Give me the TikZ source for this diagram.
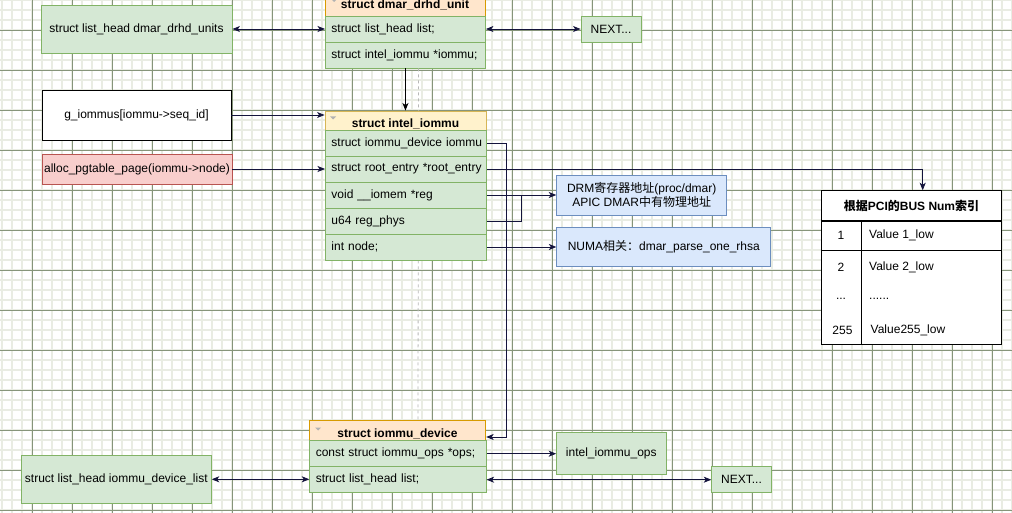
\documentclass[tikz,border=0pt]{standalone}
\usepackage{fontspec}
\setmainfont{Liberation Sans}
\newfontfamily\cjk{Noto Sans CJK SC}
\usetikzlibrary{arrows.meta,calc}
\definecolor{gfill}{HTML}{D5E8D4}
\definecolor{gstroke}{HTML}{82B366}
\definecolor{ofill}{HTML}{FFE6CC}
\definecolor{ostroke}{HTML}{D79B00}
\definecolor{yfill}{HTML}{FFF2CC}
\definecolor{ystroke}{HTML}{D6B656}
\definecolor{rfill}{HTML}{F8CECC}
\definecolor{rstroke}{HTML}{B85450}
\definecolor{bfill}{HTML}{DAE8FC}
\definecolor{bstroke}{HTML}{6C8EBF}
\definecolor{navy}{HTML}{14143C}
\definecolor{minorc}{HTML}{E9ECE3}
\definecolor{majorc}{HTML}{86957A}
\definecolor{dashc}{HTML}{B8B8B8}
\begin{document}
\begin{tikzpicture}[x=1pt,y=-1pt,
  every node/.style={font=\fontsize{12}{14}\selectfont, text=black},
  minorgrid/.style={draw=minorc, line width=1.6pt},
  majorgrid/.style={draw=majorc, line width=0.8pt},
  dashline/.style={draw=dashc, line width=0.8pt, dash pattern=on 3pt off 3pt},
  basebox/.style={line width=0.9pt, inner sep=0pt, align=center},
  gbox/.style={basebox, draw=gstroke, fill=gfill},
  wbox/.style={basebox, draw=black, fill=white},
  rbox/.style={basebox, draw=rstroke, fill=rfill},
  bbox/.style={basebox, draw=bstroke, fill=bfill},
  tbox/.style={basebox, draw=black, fill=white},
  ohead/.style={basebox, draw=ostroke, fill=ofill},
  yhead/.style={basebox, draw=ystroke, fill=yfill},
  htext/.style={font=\fontsize{12}{14}\selectfont\bfseries, inner sep=0pt},
  grow/.style={draw=gstroke, fill=gfill, line width=0.9pt, anchor=west, minimum height=26pt,
    inner xsep=6pt, inner ysep=0pt, text width=#1, align=left},
  cell/.style={inner sep=0pt},
  conn/.style={draw=navy, line width=0.9pt, -{Stealth[length=7.5pt,width=6pt,inset=2pt]}},
  biarrow/.style={draw=navy, line width=0.9pt, {Stealth[length=7.5pt,width=6pt,inset=2pt]}-{Stealth[length=7.5pt,width=6pt,inset=2pt]}},
  plainline/.style={draw=navy, line width=0.9pt},
  tline/.style={draw=black, line width=0.9pt},
  marker/.style={fill=gray!60}
]
\useasboundingbox (0,0) rectangle (1012,513);
\clip (0,0) rectangle (1012,513);
\fill[white] (0,0) rectangle (1012,513);
% grid
\foreach \i in {0,...,101} \draw[minorgrid] (2+10*\i,0) -- (2+10*\i,513);
\foreach \j in {0,...,51} \draw[minorgrid] (0,10*\j) -- (1012,10*\j);
\foreach \i in {0,...,25} \draw[majorgrid] (-8+40*\i,0) -- (-8+40*\i,513);
\foreach \j in {0,...,12} \draw[majorgrid] (0,30+40*\j) -- (1012,30+40*\j);

% struct dmar_drhd_unit
\node[ohead, minimum width=160pt, minimum height=21pt] (dmarH) at (405,5.5) {};
\node[grow=148pt] (dmarR1) at (325,29) {\mbox{struct list\_head list;}};
\node[grow=148pt] (dmarR2) at (325,55) {\mbox{struct intel\_iommu *iommu;}};

% struct iommu_device header
\node[ohead, minimum width=176.4pt, minimum height=20pt] (devH) at (397.5,430.7) {};

% dashed guide
\draw[dashline] ($(dmarR2.south)+(13,0)$) -- ($(devH.north)+(20.5,0)$);

\node[htext] (dmarT) at (405,5) {struct dmar\_drhd\_unit};
\node[gbox, minimum width=191pt, minimum height=48pt] (listA) at (136.5,29) {struct list\_head dmar\_drhd\_units};
\node[gbox, minimum width=60pt, minimum height=26pt] (next1) at (611,29) {NEXT...};

% left boxes
\node[wbox, minimum width=189pt, minimum height=50pt] (gio) at (136.5,115) {g\_iommus[iommu->seq\_id]};
\node[rbox, minimum width=190pt, minimum height=30pt] (alloc) at (137,169) {alloc\_pgtable\_page(iommu->node)};

% struct intel_iommu
\node[yhead, minimum width=161pt, minimum height=19pt] (intelH) at (405.5,120.5) {};
\node[htext] (intelT) at (405.5,123.5) {struct intel\_iommu};
\node[grow=149pt] (intelR1) at (325,143) {\mbox{struct iommu\_device iommu}};
\node[grow=149pt] (intelR2) at (325,169) {\mbox{struct root\_entry *root\_entry}};
\node[grow=149pt] (intelR3) at (325,195) {\mbox{void \_\_iomem *reg}};
\node[grow=149pt] (intelR4) at (325,221) {\mbox{u64 reg\_phys}};
\node[grow=149pt] (intelR5) at (325,247) {\mbox{int node;}};

% blue notes
\node[bbox, minimum width=170pt, minimum height=40pt] (drm) at (641.7,195) {DRM{\cjk 寄存器地址}(proc/dmar)\\APIC DMAR{\cjk 中有物理地址}};
\node[bbox, minimum width=214pt, minimum height=39pt] (numa) at (663.8,247.2) {NUMA{\cjk 相关：}dmar\_parse\_one\_rhsa};

% table
\node[tbox, minimum width=179.6pt, minimum height=30pt, font=\fontsize{12}{14}\selectfont\bfseries] (tabH) at (911.5,205.7) {{\cjk\bfseries 根据}PCI{\cjk\bfseries 的}BUS Num{\cjk\bfseries 索引}};
\node[tbox, minimum width=179.6pt, minimum height=123.3pt, anchor=north] (tabB) at (911.5,220.7) {};
\draw[tline] ($(tabB.north west)+(0,29.6)$) -- ($(tabB.north east)+(0,29.6)$);
\draw[tline] ($(tabB.north west)+(40,0)$) -- ($(tabB.south west)+(40,0)$);
\node[cell] (c1a) at (841,235.5) {1};
\node[cell, anchor=west] (c1b) at (869,235.5) {Value 1\_low};
\node[cell] (c2a) at (841,267.7) {2};
\node[cell, anchor=west] (c2b) at (869,267.7) {Value 2\_low};
\node[cell] (c3a) at (841,299) {...};
\node[cell, anchor=west] (c3b) at (869,299) {......};
\node[cell] (c4a) at (842.5,330.7) {255};
\node[cell, anchor=west] (c4b) at (870.5,330.7) {Value255\_low};

% struct iommu_device rows
\node[htext] (devT) at (397.5,434) {struct iommu\_device};
\node[grow=164.4pt] (devR1) at (309.3,453.7) {\mbox{const struct iommu\_ops *ops;}};
\node[grow=164.4pt] (devR2) at (309.3,479.7) {\mbox{struct list\_head list;}};

\node[gbox, minimum width=190pt, minimum height=48pt] (list2) at (116.3,479.3) {struct list\_head iommu\_device\_list};
\node[gbox, minimum width=109.3pt, minimum height=41.7pt] (ops) at (611.3,453.2) {intel\_iommu\_ops};
\node[gbox, minimum width=59.6pt, minimum height=26pt] (next2) at (741.5,479.7) {NEXT...};

% header markers
\fill[marker] (331,-1) -- (337,-1) -- (334,2) -- cycle;
\fill[marker] (330,116.5) -- (336,116.5) -- (333,119.5) -- cycle;
\fill[marker] (315,427.5) -- (321,427.5) -- (318,430.5) -- cycle;

% connectors
\draw[biarrow] (listA.east) -- (listA.east -| dmarR1.west);
\draw[biarrow] (dmarR1.east) -- (dmarR1.east -| next1.west);
\draw[conn, draw=black] (dmarR2.south) -- (dmarR2.south |- intelH.north);
\draw[conn] (gio.east) -- (gio.east -| intelH.west);
\draw[conn] (alloc.east) -- (alloc.east -| intelR2.west);
\draw[conn] (intelR1.east) -- ++(19.5,0) |- ($(devH.east)+(0,6.3)$);
\draw[conn] (intelR2.east) -| ($(tabH.north)+(11.2,0)$);
\draw[conn] (intelR3.east) -- (intelR3.east -| drm.west);
\draw[plainline] (intelR4.east) -| ($(intelR3.east)+(35,0)$);
\draw[conn] (intelR5.east) -- (intelR5.east -| numa.west);
\draw[conn] (devR1.east) -- (devR1.east -| ops.west);
\draw[biarrow] (list2.east) -- (list2.east -| devR2.west);
\draw[biarrow] (devR2.east) -- (devR2.east -| next2.west);
\end{tikzpicture}
\end{document}
